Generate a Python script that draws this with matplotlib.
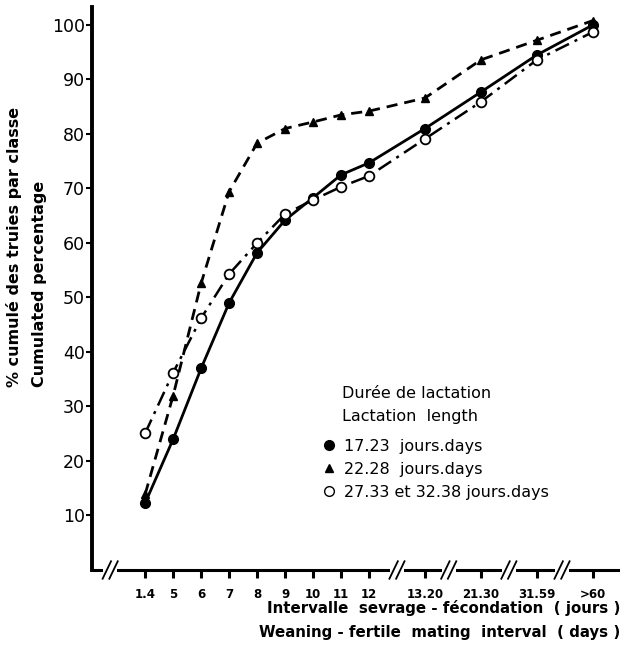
import matplotlib.pyplot as plt
from matplotlib.lines import Line2D

# x categories (weaning - fertile mating interval, days)
labels = ['1.4', '5', '6', '7', '8', '9', '10', '11', '12', '13.20', '21.30', '31.59', '>60']
xpos = [0, 1, 2, 3, 4, 5, 6, 7, 8, 10, 12, 14, 16]

# cumulated percentages
lact_17_23 = [12.3, 24.0, 37.0, 49.0, 58.2, 64.2, 68.3, 72.5, 74.7, 81.0, 87.7, 94.5, 100.0]
lact_22_28 = [13.9, 32.0, 52.6, 69.4, 78.3, 81.0, 82.2, 83.5, 84.2, 86.6, 93.6, 97.2, 100.8]
lact_27_38 = [25.1, 36.2, 46.2, 54.3, 60.0, 65.3, 67.9, 70.3, 72.3, 79.1, 85.9, 93.6, 98.7]

breaks = [-1.25, 9.0, 10.85, 13.0, 14.9]

W, H = 627, 655
fig = plt.figure(figsize=(6.27, 6.55), dpi=100)
ax = fig.add_axes([92 / W, (H - 570) / H, (618 - 92) / W, (570 - 7) / H])
ax.set_xlim(-1.9, 16.9)
ax.set_ylim(0, 103.3)

ax.plot(xpos, lact_17_23, color='black', lw=2.0, marker='o', ms=7, mfc='black', zorder=3)
ax.plot(xpos, lact_22_28, color='black', lw=2.0, ls=(0, (4, 2.5)), marker='^', ms=6, mfc='black', zorder=3)
ax.plot(xpos, lact_27_38, color='black', lw=1.8, ls=(0, (6, 2.5, 1.2, 2.5)), marker='o', ms=7,
        mfc='white', mec='black', mew=1.3, zorder=4)

for s in ['top', 'right']:
    ax.spines[s].set_visible(False)
ax.spines['left'].set_linewidth(2.8)
ax.spines['bottom'].set_linewidth(2.2)

# axis breaks on the x axis
for b in breaks:
    ax.plot([b - 0.25, b + 0.25], [0, 0], color='white', lw=4, clip_on=False, zorder=5,
            solid_capstyle='butt')
    for d in (-0.12, 0.12):
        ax.plot([b + d - 0.15, b + d + 0.15], [-1.6, 1.6], color='black', lw=1.3, clip_on=False, zorder=6)

ax.set_xticks(xpos)
ax.set_xticklabels(labels, fontsize=8.5, fontweight='bold')
ax.tick_params(axis='x', direction='out', length=6, width=2.2, pad=7)
ax.set_yticks(range(10, 101, 10))
ax.set_yticklabels([str(v) for v in range(10, 101, 10)], fontsize=12.5)
ax.tick_params(axis='y', direction='out', length=4, width=1.5, pad=1)

fig.text(14 / W, 1 - 387 / H, '% cumulé des truies par classe', rotation=90, ha='center', va='bottom',
         fontsize=11.5, fontweight='bold')
fig.text(40 / W, 1 - 387 / H, 'Cumulated percentage', rotation=90, ha='center', va='bottom',
         fontsize=11.5, fontweight='bold')

fig.text(620 / W, 1 - 608 / H, 'Intervalle  sevrage - fécondation  ( jours )', ha='right', va='center',
         fontsize=10.8, fontweight='bold')
fig.text(620 / W, 1 - 633 / H, 'Weaning - fertile  mating  interval  ( days )', ha='right', va='center',
         fontsize=10.8, fontweight='bold')

fig.text(342 / W, 1 - 393 / H, 'Durée de lactation', ha='left', va='center', fontsize=11.5)
fig.text(342 / W, 1 - 416 / H, 'Lactation  length', ha='left', va='center', fontsize=11.5)

handles = [
    Line2D([], [], ls='none', marker='o', color='black', ms=7),
    Line2D([], [], ls='none', marker='^', color='black', ms=6),
    Line2D([], [], ls='none', marker='o', mfc='white', mec='black', ms=7),
]
names = ['17.23  jours.days', '22.28  jours.days', '27.33 et 32.38 jours.days']
leg = fig.legend(handles, names, loc='upper left', bbox_to_anchor=(314 / W, 1 - 431 / H), frameon=False,
                 fontsize=11.5, handlelength=0.9, handletextpad=0.5, labelspacing=0.5, borderpad=0)

fig.savefig('out.png', dpi=100)
